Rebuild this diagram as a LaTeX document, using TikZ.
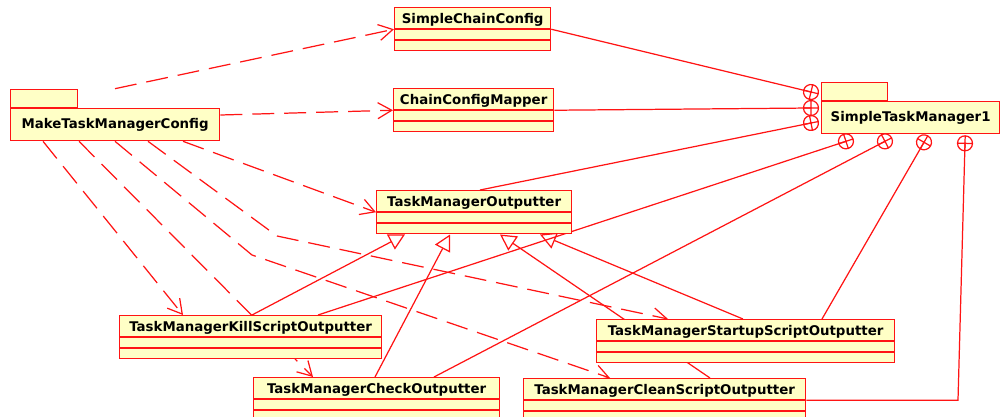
\documentclass[tikz,border=0pt]{standalone}
\usepackage{fontspec}
\setmainfont{DejaVu Sans}
\usetikzlibrary{arrows.meta,shapes.multipart,decorations.markings,backgrounds}

\definecolor{umlred}{RGB}{255,20,20}
\definecolor{umlfill}{RGB}{255,255,198}
\newcommand{\clsfont}{\fontsize{7.6}{9}\selectfont\bfseries}
\newcommand{\cname}[1]{\rule[-0.1cm]{0pt}{0.4cm}#1}

\tikzset{
  umlclass/.style={rectangle split, rectangle split parts=3, draw=umlred, fill=umlfill,
    line width=0.75pt, inner xsep=0pt, inner ysep=0pt,
    rectangle split empty part height=0.18cm, rectangle split empty part depth=0pt,
    font=\clsfont, anchor=north west},
  umlpkg/.style={draw=umlred, fill=umlfill, line width=0.75pt, inner sep=0pt,
    font=\clsfont, anchor=north west, minimum height=0.64cm},
  pkgtab/.style={draw=umlred, fill=umlfill, line width=0.75pt, inner sep=0pt,
    anchor=south west, minimum width=1.34cm, minimum height=0.36cm},
  depends/.style={draw=umlred, line width=0.7pt, dash pattern=on 0.44cm off 0.2cm,
    -{Straight Barb[length=2.8mm,width=3.2mm]}},
  inherits/.style={draw=umlred, line width=0.7pt,
    -{Triangle[length=3.2mm,width=3.4mm,fill=white]}},
  nested/.style={draw=umlred, line width=0.7pt,
    decoration={markings, mark=at position 1 with {
      \draw[umlred, line width=0.7pt] (0,0) circle (0.15cm)
        (-0.15cm,0) -- (0.15cm,0) (0,-0.15cm) -- (0,0.15cm);}},
    postaction={decorate}},
}

\begin{document}
\begin{tikzpicture}[x=0.02cm, y=-0.02cm]
\useasboundingbox (0,0) rectangle (1001,416);

% classes
\node[umlclass, minimum width=3.12cm] (scc) at (394,7) {\cname{SimpleChainConfig}};
\node[umlclass, minimum width=3.2cm] (ccm) at (393,88) {\cname{ChainConfigMapper}};
\node[umlclass, minimum width=3.9cm] (tmo) at (376,190) {\cname{TaskManagerOutputter}};
\node[umlclass, minimum width=5.24cm] (kill) at (119,315) {\cname{TaskManagerKillScriptOutputter}};
\node[umlclass, minimum width=4.92cm] (check) at (253,377) {\cname{TaskManagerCheckOutputter}};
\node[umlclass, minimum width=5.96cm] (startup) at (596,319) {\cname{TaskManagerStartupScriptOutputter}};
\node[umlclass, minimum width=5.64cm] (clean) at (523,378) {\cname{TaskManagerCleanScriptOutputter}};

% packages
\node[umlpkg, minimum width=4.18cm] (make) at (10,108) {MakeTaskManagerConfig};
\node[pkgtab] (maketab) at (make.north west) {};
\node[umlpkg, minimum width=3.56cm] (stm) at (821,101) {SimpleTaskManager1};
\node[pkgtab, minimum width=1.32cm] (stmtab) at (stm.north west) {};

% where the nesting circles sit round SimpleTaskManager1
\coordinate (hl1) at ([shift={(-10,-9)}]stm.north west);
\coordinate (hl2) at ([shift={(-10,7)}]stm.north west);
\coordinate (hl3) at ([shift={(-10,22)}]stm.north west);
\coordinate (hb1) at ([shift={(25,7)}]stm.south west);
\coordinate (hb2) at ([shift={(64,7)}]stm.south west);
\coordinate (hb3) at ([shift={(103,8)}]stm.south west);
\coordinate (hb4) at ([shift={(144,9)}]stm.south west);

\begin{scope}[on background layer]
% dependencies
\draw[depends] (115,0 |- maketab.north) -- (scc.west);
\draw[depends] (make.east |- 0,115) -- (ccm.west);
\draw[depends] (183,0 |- make.south) -- (tmo.west);
\draw[depends] (43,0 |- make.south) -- (183,0 |- kill.north);
\draw[depends] (79,0 |- make.south) -- (313,0 |- check.north);
\draw[depends] (115,0 |- make.south) -- (252,255) -- (610,0 |- clean.north);
\draw[depends] (148,0 |- make.south) -- (277,236) -- (668,0 |- startup.north);

% generalizations
\draw[inherits] (252,0 |- kill.north) -- (405,0 |- tmo.south);
\draw[inherits] (375,0 |- check.north) -- (450,0 |- tmo.south);
\draw[inherits] (710,0 |- clean.north) -- (500,0 |- tmo.south);
\draw[inherits] (743,0 |- startup.north) -- (540,0 |- tmo.south);

% nested in SimpleTaskManager1
\draw[nested] (scc.east) -- (hl1);
\draw[nested] (ccm.east) -- (hl2);
\draw[nested] (480,0 |- tmo.north) -- (hl3);
\draw[nested] (318,0 |- kill.north) -- (hb1);
\draw[nested] (434,0 |- check.north) -- (hb2);
\draw[nested] (822,0 |- startup.north) -- (hb3);
\draw[nested] (clean.east) -- (958,0 |- clean.east) -- (hb4);
\end{scope}
\end{tikzpicture}
\end{document}
